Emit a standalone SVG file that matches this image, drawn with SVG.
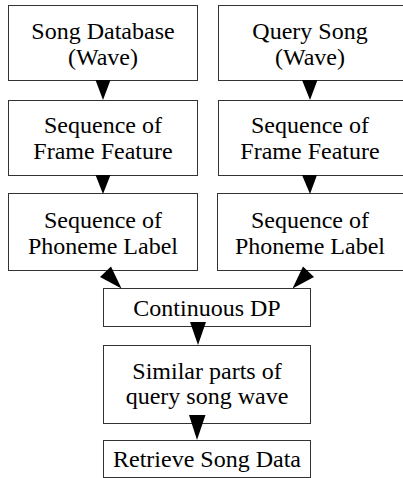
<svg xmlns="http://www.w3.org/2000/svg" width="403" height="478" viewBox="0 0 403 478">
<style>
rect{fill:#fff;stroke:#333;stroke-width:1}
text{font-size:24px;fill:#000;text-anchor:middle}
.ar{fill:#000}
</style>
<rect x="0" y="0" width="403" height="478" style="stroke:none"/>
<g font-family="Liberation Serif, Times New Roman, DejaVu Serif, serif">
<g id="song-db"><rect x="8.5" y="5.5" width="189" height="75"/><text x="103" y="39">Song Database</text><text x="103" y="65">(Wave)</text></g>
<g id="frame-left"><rect x="8.5" y="100.5" width="189" height="75"/><text x="103" y="133">Sequence of</text><text x="103" y="159">Frame Feature</text></g>
<g id="phoneme-left"><rect x="8.5" y="193.5" width="189" height="77"/><text x="103" y="228">Sequence of</text><text x="103" y="254">Phoneme Label</text></g>
<g id="query-song"><rect x="218.5" y="5.5" width="190" height="75"/><text x="310" y="39">Query Song</text><text x="310" y="65">(Wave)</text></g>
<g id="frame-right"><rect x="218.5" y="100.5" width="190" height="75"/><text x="310" y="133">Sequence of</text><text x="310" y="159">Frame Feature</text></g>
<g id="phoneme-right"><rect x="217.5" y="193.5" width="190" height="77"/><text x="310" y="228">Sequence of</text><text x="310" y="254">Phoneme Label</text></g>
<g id="dp"><rect x="103.5" y="288.5" width="207" height="38"/><text x="207" y="316">Continuous DP</text></g>
<g id="similar"><rect x="103.5" y="345.5" width="207" height="78"/><text x="207" y="379">Similar parts of</text><text x="207" y="404">query song wave</text></g>
<g id="retrieve"><rect x="103.5" y="440.5" width="207" height="37"/><text x="207" y="467">Retrieve Song Data</text></g>
</g>
<g id="connectors">
<polygon class="ar" points="95.5,80 110.5,80 103,100"/>
<polygon class="ar" points="95.5,175 110.5,175 103,194"/>
<polygon class="ar" points="302,80 317.5,80 310,100"/>
<polygon class="ar" points="302,175 317,175 310,194"/>
<polygon class="ar" points="100,277 111,266.5 121.5,288.5"/>
<polygon class="ar" points="314,277 303,266.5 292.5,288.5"/>
<polygon class="ar" points="190,322 206,322 198,345"/>
<polygon class="ar" points="189,415 205.5,415 197,440"/>
</g>
</svg>
